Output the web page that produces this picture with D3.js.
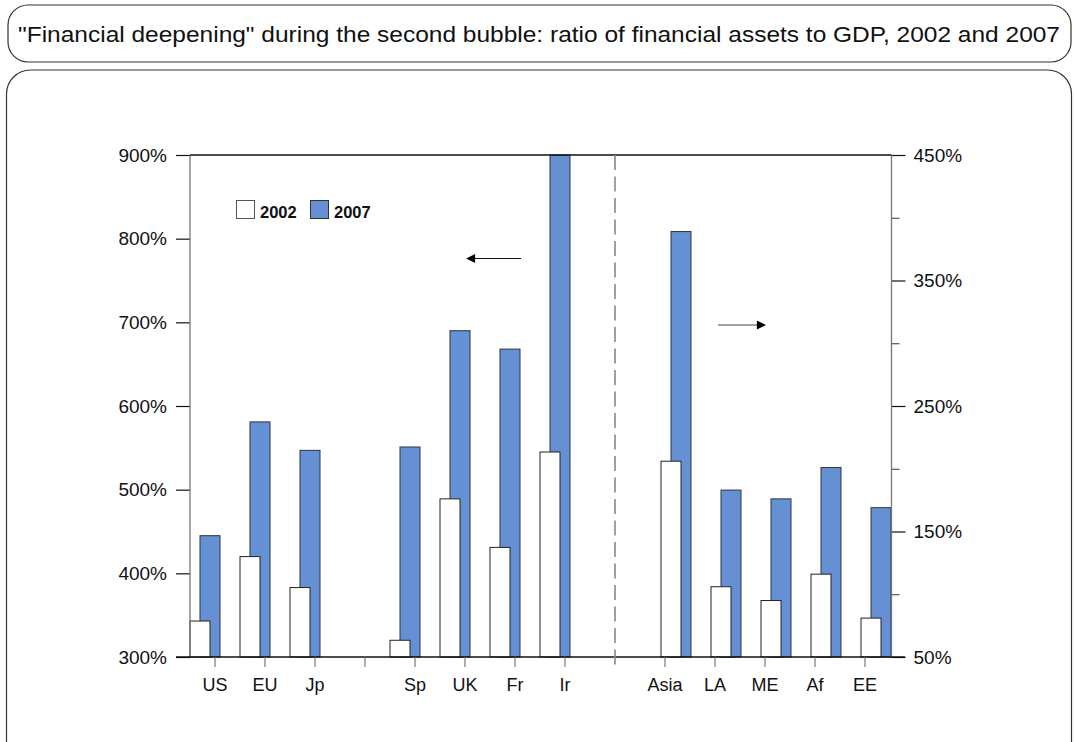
<!DOCTYPE html>
<html>
<head>
<meta charset="utf-8">
<script src="https://cdn.jsdelivr.net/npm/d3@7"></script>
<style>
  html, body { margin: 0; padding: 0; background: #fff; }
  svg { display: block; font-family: "Liberation Sans", Arial, Helvetica, sans-serif; }
</style>
</head>
<body>
<svg id="chart" width="1074" height="742"></svg>
<script>
// ---- Data ----
const title = "\"Financial deepening\" during the second bubble: ratio of financial assets to GDP, 2002 and 2007";
const seriesNames = ["2002", "2007"];
const slots = ["US", "EU", "Jp", "gap1", "Sp", "UK", "Fr", "Ir", "gap2", "Asia", "LA", "ME", "Af", "EE"];
const leftCategories = ["US", "EU", "Jp", "Sp", "UK", "Fr", "Ir"];
const left2002 = [343, 420, 383, 320, 489, 431, 545];
const left2007 = [445, 581, 547, 551, 690, 668, 900];
const rightCategories = ["Asia", "LA", "ME", "Af", "EE"];
const right2002 = [206, 106, 95, 116, 81];
const right2007 = [389, 183, 176, 201, 169];
const leftTicks = [300, 400, 500, 600, 700, 800, 900];
const rightMajorTicks = [50, 150, 250, 350, 450];
const rightMinorTicks = [100, 200, 300, 400];

// ---- Layout ----
const svg = d3.select("#chart");
const X0 = 190, X1 = 890, YTOP = 155, YBOT = 657;
const blueFill = "#6591d4";

// frames
svg.append("rect").attr("x", 8).attr("y", 5).attr("width", 1063).attr("height", 57)
  .attr("rx", 20).attr("ry", 20).attr("fill", "none").attr("stroke", "#333").attr("stroke-width", 1.2);
svg.append("rect").attr("x", 6.5).attr("y", 70).attr("width", 1065).attr("height", 720)
  .attr("rx", 24).attr("ry", 24).attr("fill", "none").attr("stroke", "#333").attr("stroke-width", 1.2);

svg.append("text").attr("x", 539).attr("y", 42).attr("text-anchor", "middle")
  .attr("font-size", 22).attr("fill", "#111")
  .attr("textLength", 1042).attr("lengthAdjust", "spacingAndGlyphs")
  .text(title);

// scales
const x = d3.scaleBand().domain(slots).range([X0, X1]).padding(0);
const yL = d3.scaleLinear().domain([300, 900]).range([YBOT, YTOP]);
const yR = d3.scaleLinear().domain([50, 450]).range([YBOT, YTOP]);

const g = svg.append("g");

// bars
const barW = 20;
function pairs(cats, v02, v07, scale, off) {
  return cats.map((c, i) => ({ c, v02: v02[i], v07: v07[i], scale, off }));
}
const allPairs = pairs(leftCategories, left2002, left2007, yL, 0)
  .concat(pairs(rightCategories, right2002, right2007, yR, 21));

g.selectAll("rect.b07").data(allPairs).join("rect").attr("class", "b07")
  .attr("x", d => x(d.c) + d.off + 10).attr("width", barW)
  .attr("y", d => d.scale(d.v07)).attr("height", d => YBOT - d.scale(d.v07))
  .attr("fill", blueFill).attr("stroke", "#2e3440").attr("stroke-width", 1);
g.selectAll("rect.b02").data(allPairs).join("rect").attr("class", "b02")
  .attr("x", d => x(d.c) + d.off).attr("width", barW)
  .attr("y", d => d.scale(d.v02)).attr("height", d => YBOT - d.scale(d.v02))
  .attr("fill", "#fff").attr("stroke", "#222").attr("stroke-width", 1);

// left axis
const axL = d3.axisLeft(yL).tickValues(leftTicks).tickSize(14).tickPadding(9)
  .tickFormat(d => d + "%");
const gL = svg.append("g").attr("transform", `translate(${X0},0)`).call(axL);
gL.select(".domain").remove();
gL.selectAll(".tick line").attr("stroke", "#111").attr("stroke-width", 1.2);
gL.selectAll(".tick text").attr("font-size", 19).attr("fill", "#111")
  .attr("font-family", "Liberation Sans, Arial, sans-serif");
svg.append("line").attr("x1", X0).attr("x2", X0).attr("y1", YTOP).attr("y2", YBOT)
  .attr("stroke", "#777").attr("stroke-width", 1.3);

// right axis
const XR = 891.5;
const axR = d3.axisRight(yR).tickValues(rightMajorTicks).tickSize(14).tickPadding(8)
  .tickFormat(d => d + "%");
const gR = svg.append("g").attr("transform", `translate(${XR},0)`).call(axR);
gR.select(".domain").remove();
gR.selectAll(".tick line").attr("stroke", "#111").attr("stroke-width", 1.2);
gR.selectAll(".tick text").attr("font-size", 19).attr("fill", "#111")
  .attr("font-family", "Liberation Sans, Arial, sans-serif");
const axRm = d3.axisRight(yR).tickValues(rightMinorTicks).tickSize(8).tickFormat("");
const gRm = svg.append("g").attr("transform", `translate(${XR},0)`).call(axRm);
gRm.select(".domain").remove();
gRm.selectAll(".tick line").attr("stroke", "#333").attr("stroke-width", 1);
svg.append("line").attr("x1", XR).attr("x2", XR).attr("y1", YTOP).attr("y2", YBOT)
  .attr("stroke", "#777").attr("stroke-width", 1.3);

// top and bottom lines
svg.append("line").attr("x1", X0).attr("x2", XR).attr("y1", YTOP).attr("y2", YTOP)
  .attr("stroke", "#111").attr("stroke-width", 1.3);
svg.append("line").attr("x1", 176).attr("x2", 905).attr("y1", YBOT).attr("y2", YBOT)
  .attr("stroke", "#111").attr("stroke-width", 1.4);

// bottom axis
const axB = d3.axisBottom(x).tickSize(10).tickPadding(11)
  .tickFormat(d => d.startsWith("gap") ? "" : d);
const gB = svg.append("g").attr("transform", `translate(0,${YBOT})`).call(axB);
gB.select(".domain").remove();
gB.selectAll(".tick").filter(d => d === "gap2").select("line").remove();
gB.selectAll(".tick line").attr("stroke", "#777").attr("stroke-width", 1.2);
gB.selectAll(".tick text").attr("font-size", 18).attr("fill", "#111")
  .attr("font-family", "Liberation Sans, Arial, sans-serif");

// dashed separator
const xs = x("gap2") + x.bandwidth() / 2;
svg.append("line").attr("x1", xs).attr("x2", xs).attr("y1", YTOP).attr("y2", YBOT + 10)
  .attr("stroke", "#888").attr("stroke-width", 1.6).attr("stroke-dasharray", "15,6.5");

// arrows
const defs = svg.append("defs");
defs.append("marker").attr("id", "ah").attr("viewBox", "0 0 10 10").attr("refX", 9).attr("refY", 5)
  .attr("markerWidth", 10).attr("markerHeight", 9).attr("markerUnits", "userSpaceOnUse")
  .attr("orient", "auto")
  .append("path").attr("d", "M0,0 L10,5 L0,10 Z").attr("fill", "#000");
svg.append("line").attr("x1", 521).attr("x2", 467).attr("y1", 258.5).attr("y2", 258.5)
  .attr("stroke", "#111").attr("stroke-width", 1.2).attr("marker-end", "url(#ah)");
svg.append("line").attr("x1", 718).attr("x2", 765).attr("y1", 325).attr("y2", 325)
  .attr("stroke", "#444").attr("stroke-width", 1.2).attr("marker-end", "url(#ah)");

// legend
const legend = svg.append("g");
const legX = [236, 310];
seriesNames.forEach((s, i) => {
  legend.append("rect").attr("x", legX[i] + 0.5).attr("y", 200.5).attr("width", 18).attr("height", 18)
    .attr("fill", i === 0 ? "#fff" : blueFill).attr("stroke", i === 0 ? "#555" : "#333").attr("stroke-width", 1);
  legend.append("text").attr("x", legX[i] + 24).attr("y", 218).attr("font-size", 16.5)
    .attr("font-weight", "bold").attr("fill", "#111").text(s);
});
</script>
</body>
</html>
